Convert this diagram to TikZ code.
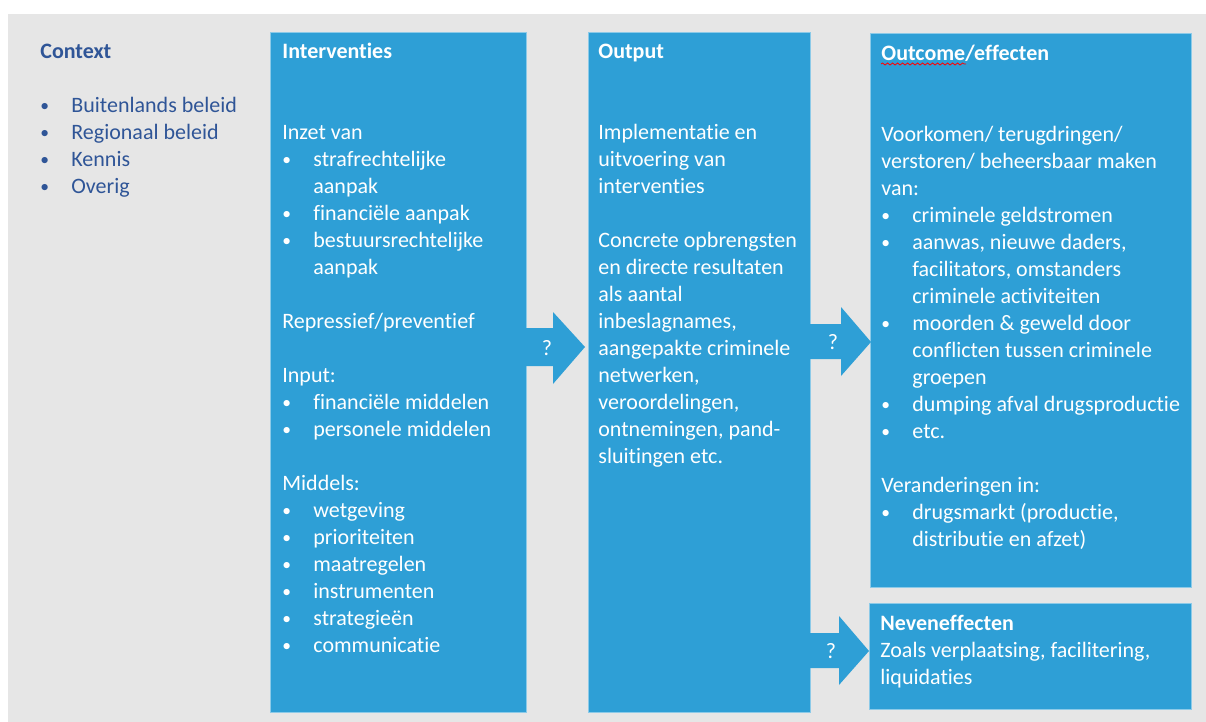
\documentclass[tikz,border=0pt]{standalone}
\usepackage{fontspec}
\setmainfont{Carlito}[Ligatures=NoCommon]
\usetikzlibrary{decorations.pathmorphing}

\definecolor{boxblue}{RGB}{46,159,214}
\definecolor{bggray}{RGB}{230,230,230}
\definecolor{ctxblue}{RGB}{47,85,151}

\newcommand{\bul}{\makebox[15.5pt][l]{\raisebox{0.3pt}{\scalebox{0.8}{\textbullet}}}}
\newcommand{\ind}{\hspace*{15.5pt}}

\tikzset{
  block/.style={fill=boxblue, draw=boxblue!55!white, line width=0.4pt},
  blocktxt/.style={anchor=north west, inner sep=0pt, align=left, text=white,
    font=\fontsize{11}{13.5}\selectfont},
  arr/.style={fill=boxblue},
  qmark/.style={text=white, inner sep=0pt, font=\fontsize{11}{13.5}\selectfont}
}

\begin{document}
\begin{tikzpicture}[x=0.5pt,y=-0.5pt]
\useasboundingbox (0,0) rectangle (1206,722);
\fill[bggray] (8,14) rectangle (1206,722);

% boxes
\path[block] (270,32) rectangle (526,712);
\path[block] (588,32) rectangle (810,712);
\path[block] (870,33) rectangle (1191,587);
\path[block] (869,603) rectangle (1191,709);

% block arrows
\fill[arr] (526,328) -- (553,328) -- (553,312) -- (585,347) -- (553,384) -- (553,366) -- (526,366) -- cycle;
\node[qmark] (q1) at (547,348) {?};
\fill[arr] (810,324) -- (841,324) -- (841,307) -- (871,342) -- (841,376) -- (841,359) -- (810,359) -- cycle;
\node[qmark] (q2) at (833,342) {?};
\fill[arr] (810,633) -- (839,633) -- (839,616) -- (869,651) -- (839,685) -- (839,668) -- (810,668) -- cycle;
\node[qmark] (q3) at (831,651) {?};

% texts (top of first line = baseline - strut height)
\node[blocktxt, text=ctxblue] (context) at (40,39.1) {\strut\textbf{Context}\\[13.5pt]
\bul Buitenlands beleid\\
\bul Regionaal beleid\\
\bul Kennis\\
\bul Overig};

\node[blocktxt] (interventies) at (282,39.1) {\strut\textbf{Interventies}\\[27pt]
Inzet van\\
\bul strafrechtelijke\\
\ind aanpak\\
\bul financiële aanpak\\
\bul bestuursrechtelijke\\
\ind aanpak\\[13.5pt]
Repressief/preventief\\[13.5pt]
Input:\\
\bul financiële middelen\\
\bul personele middelen\\[13.5pt]
Middels:\\
\bul wetgeving\\
\bul prioriteiten\\
\bul maatregelen\\
\bul instrumenten\\
\bul strategieën\\
\bul communicatie};

\node[blocktxt] (output) at (598,39.1) {\strut\textbf{Output}\\[27pt]
Implementatie en\\
uitvoering van\\
interventies\\[13.5pt]
Concrete opbrengsten\\
en directe resultaten\\
als aantal\\
inbeslagnames,\\
aangepakte criminele\\
netwerken,\\
veroordelingen,\\
ontnemingen, pand-\\
sluitingen etc.};

\node[blocktxt] (outcome) at (881,41.1) {\strut\textbf{Outcome/effecten}\\[27pt]
Voorkomen/ terugdringen/\\
verstoren/ beheersbaar maken\\
van:\\
\bul criminele geldstromen\\
\bul aanwas, nieuwe daders,\\
\ind facilitators, omstanders\\
\ind criminele activiteiten\\
\bul moorden \& geweld door\\
\ind conflicten tussen criminele\\
\ind groepen\\
\bul dumping afval drugsproductie\\
\bul etc.\\[13.5pt]
Veranderingen in:\\
\bul drugsmarkt (productie,\\
\ind distributie en afzet)};
\draw[red, line width=0.4pt, decorate, decoration={snake, amplitude=0.5pt, segment length=2.5pt}] (881,64) -- (966,64);

\node[blocktxt] (neven) at (880,611.1) {\strut\textbf{Neveneffecten}\\
Zoals verplaatsing, facilitering,\\
liquidaties};
\end{tikzpicture}
\end{document}
